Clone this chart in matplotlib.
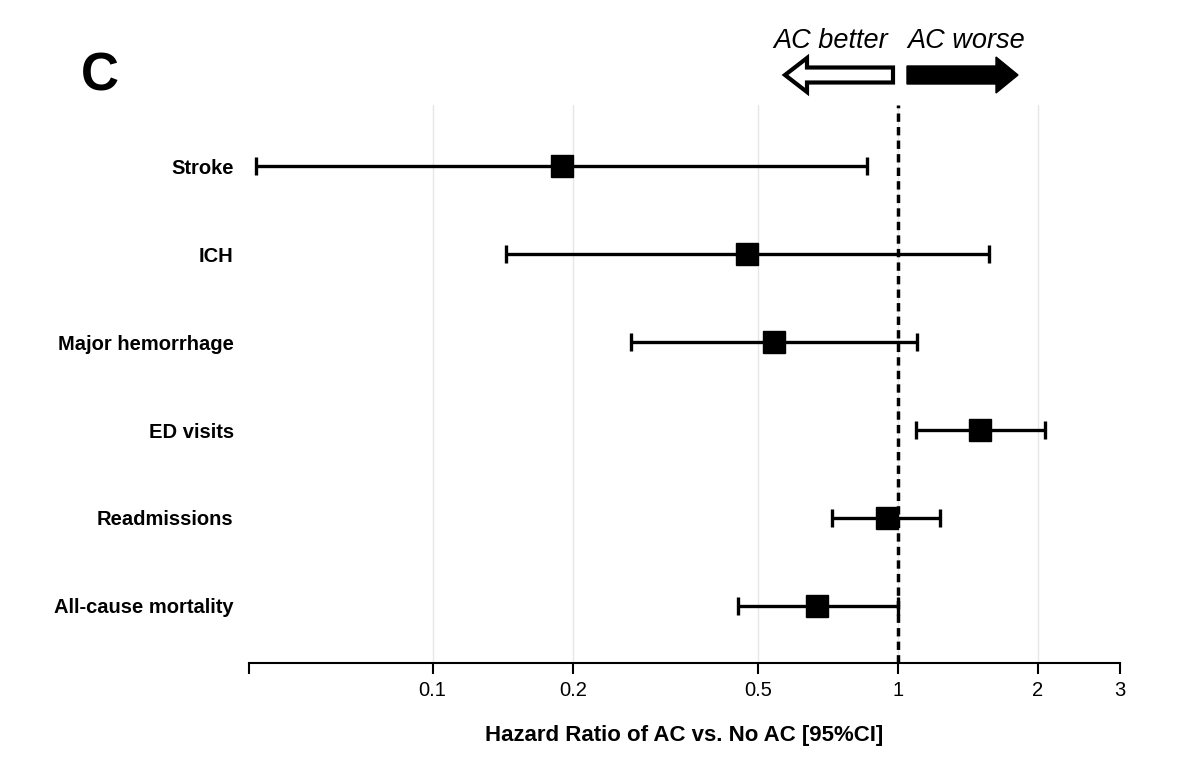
import matplotlib.pyplot as plt
from matplotlib.patches import FancyArrow

# === data: hazard ratios with 95% CI ===
outcomes = ["Stroke", "ICH", "Major hemorrhage", "ED visits", "Readmissions", "All-cause mortality"]
hr = [0.19, 0.474, 0.542, 1.50, 0.945, 0.67]
ci_low = [0.0417, 0.144, 0.267, 1.093, 0.722, 0.454]
ci_high = [0.86, 1.567, 1.098, 2.07, 1.23, 1.0]

tick_vals = [0.0403, 0.1, 0.2, 0.5, 1, 2, 3]
tick_labels = ["", "0.1", "0.2", "0.5", "1", "2", "3"]
grid_vals = [0.1, 0.2, 0.5, 1, 2]

plt.rcParams["font.family"] = ["Liberation Sans", "DejaVu Sans"]

fig = plt.figure(figsize=(12, 7.67), dpi=100)
ax = fig.add_axes([0.2075, 0.1356, 0.7258, 0.7274])

ypos = list(range(len(outcomes), 0, -1))
err = [[h - l for h, l in zip(hr, ci_low)], [u - h for h, u in zip(hr, ci_high)]]

# grid lines first, behind everything
for g in grid_vals:
    ax.axvline(g, color="#e6e6e6", linewidth=1.0, zorder=0)

ax.axvline(1, color="black", linestyle=(0, (2.4, 1.5)), linewidth=2.5, zorder=1)

ax.errorbar(hr, ypos, xerr=err, fmt="s", color="black", markersize=15.5,
            elinewidth=2.4, capsize=6.5, capthick=2.4, zorder=3)

ax.set_xscale("log")
ax.set_xlim(0.0403, 3)
ax.set_ylim(0.352, 6.693)
ax.set_xticks(tick_vals)
ax.set_xticklabels(tick_labels, fontsize=14.5)
ax.minorticks_off()
ax.set_yticks(ypos)
ax.set_yticklabels(outcomes, fontsize=14.5, fontweight="bold")
ax.tick_params(axis="y", length=0, pad=11)
ax.tick_params(axis="x", length=8, width=1.5, pad=5)

for s in ["top", "right", "left"]:
    ax.spines[s].set_visible(False)
ax.spines["bottom"].set_linewidth(1.5)

ax.set_xlabel("Hazard Ratio of AC vs. No AC [95%CI]", fontsize=16,
              fontweight="bold", labelpad=18)

# panel letter
fig.text(0.067, 0.90, "C", fontsize=38, fontweight="bold", va="center", ha="left")

# direction arrows above the plot
fig.text(0.692, 0.947, "AC better", fontsize=19.5, style="italic", ha="center", va="center")
fig.text(0.805, 0.947, "AC worse", fontsize=19.5, style="italic", ha="center", va="center")

fig.patches.append(FancyArrow(893 / 1200, 1 - 75 / 767, -108 / 1200, 0,
                              width=15 / 767, head_width=34 / 767, head_length=22 / 1200,
                              length_includes_head=True, facecolor="white",
                              edgecolor="black", linewidth=3,
                              transform=fig.transFigure, figure=fig))
fig.patches.append(FancyArrow(907 / 1200, 1 - 75 / 767, 111 / 1200, 0,
                              width=18 / 767, head_width=36 / 767, head_length=22 / 1200,
                              length_includes_head=True, facecolor="black",
                              edgecolor="black", linewidth=1.0,
                              transform=fig.transFigure, figure=fig))

fig.savefig("out.png", dpi=100)
